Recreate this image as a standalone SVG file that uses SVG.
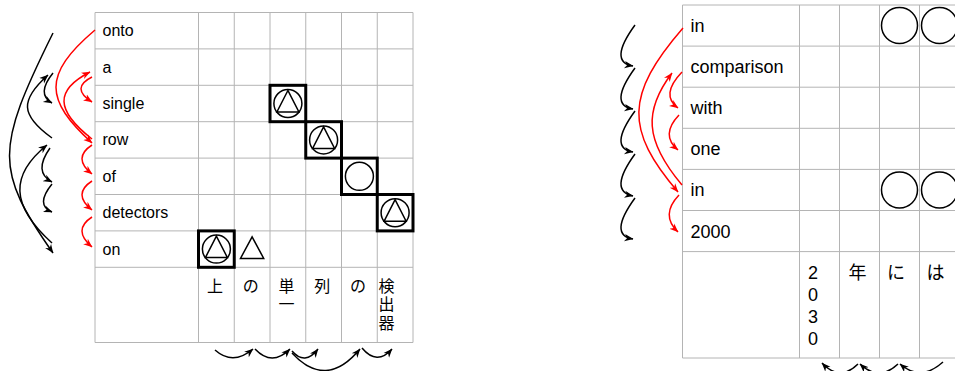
<svg xmlns="http://www.w3.org/2000/svg" width="955" height="371" viewBox="0 0 955 371">
<style>
.g{stroke:#b4b4b4;stroke-width:1;fill:none}
.t{font-family:"Liberation Sans","Noto Sans CJK JP",sans-serif;fill:#000}
.l{font-size:16px}
.r{font-size:18px}
.bx{fill:none;stroke:#000;stroke-width:3}
.m{fill:none;stroke:#000;stroke-width:1.5}
.kb{fill:none;stroke:#000;stroke-width:1.5;marker-end:url(#ab)}
.kr{fill:none;stroke:#f00;stroke-width:1.5;marker-end:url(#ar)}
</style>
<defs>
<marker id="ab" viewBox="0 0 10 10" refX="9.5" refY="5" markerWidth="9" markerHeight="9" markerUnits="userSpaceOnUse" orient="auto"><path d="M0,1 L10,5 L0,9 L3,5 z" fill="#000"/></marker>
<marker id="ar" viewBox="0 0 10 10" refX="9.5" refY="5" markerWidth="9" markerHeight="9" markerUnits="userSpaceOnUse" orient="auto"><path d="M0,1 L10,5 L0,9 L3,5 z" fill="#f00"/></marker>
</defs>
<rect width="955" height="371" fill="#fff"/>

<!-- left grid -->
<g id="grid-left" class="g">
<path d="M95,12.5H413M95,48.9H413M95,85.3H413M95,121.7H413M95,158.1H413M95,194.5H413M95,230.9H413M95,267.3H413M95,342.5H413"/>
<path d="M95,12.5V342.5M198.5,12.5V342.5M234.25,12.5V342.5M270,12.5V342.5M305.75,12.5V342.5M341.5,12.5V342.5M377.25,12.5V342.5M413,12.5V342.5"/>
</g>
<g class="t l">
<g id="en-onto"><text x="102.5" y="36.2">onto</text></g>
<g id="en-a"><text x="102.5" y="72.6">a</text></g>
<g id="en-single"><text x="102.5" y="109">single</text></g>
<g id="en-row"><text x="102.5" y="145.4">row</text></g>
<g id="en-of"><text x="102.5" y="181.8">of</text></g>
<g id="en-detectors"><text x="102.5" y="218.2">detectors</text></g>
<g id="en-on"><text x="102.5" y="254.6">on</text></g>
<g id="ja-ue"><text x="207" y="292">上</text></g>
<g id="ja-no1"><text x="242.75" y="292">の</text></g>
<g id="ja-tanitsu"><text x="278.5" y="292">単</text><text x="278.5" y="310.3">一</text></g>
<g id="ja-retsu"><text x="314.25" y="292">列</text></g>
<g id="ja-no2"><text x="350" y="292">の</text></g>
<g id="ja-kenshutsuki"><text x="378.5" y="292">検</text><text x="378.5" y="310.3">出</text><text x="378.5" y="328.6">器</text></g>
</g>
<g id="marks-left">
<rect class="bx" x="270" y="85.3" width="35.75" height="36.4"/>
<rect class="bx" x="305.75" y="121.7" width="35.75" height="36.4"/>
<rect class="bx" x="341.5" y="158.1" width="35.75" height="36.4"/>
<rect class="bx" x="377.25" y="194.5" width="35.75" height="36.4"/>
<rect class="bx" x="198.5" y="230.9" width="35.75" height="36.4"/>
<circle class="m" cx="287.9" cy="103.5" r="14"/><path class="m" d="M287.9,90.5L276.9,112H298.9Z"/>
<circle class="m" cx="323.6" cy="139.9" r="14"/><path class="m" d="M323.6,126.9L312.6,148.4H334.6Z"/>
<circle class="m" cx="359.4" cy="176.3" r="14"/>
<circle class="m" cx="395.1" cy="212.7" r="14"/><path class="m" d="M395.1,199.7L384.1,221.2H406.1Z"/>
<circle class="m" cx="216.4" cy="249.1" r="14"/><path class="m" d="M216.4,236.1L205.4,257.6H227.4Z"/>
<path class="m" d="M252.1,236.8L240.5,258.4H263.7Z"/>
</g>

<!-- right grid -->
<g id="grid-right" class="g">
<path d="M682.5,5H955M682.5,46.1H955M682.5,87.2H955M682.5,128.3H955M682.5,169.4H955M682.5,210.5H955M682.5,251.6H955M682.5,358H955"/>
<path d="M682.5,5V358M799.5,5V358M839.5,5V358M879.5,5V358M919.5,5V358"/>
</g>
<g class="t r">
<g id="en2-in1"><text x="690.5" y="32">in</text></g>
<g id="en2-comparison"><text x="690.5" y="73.1">comparison</text></g>
<g id="en2-with"><text x="690.5" y="114.2">with</text></g>
<g id="en2-one"><text x="690.5" y="155.3">one</text></g>
<g id="en2-in2"><text x="690.5" y="196.4">in</text></g>
<g id="en2-2000"><text x="690.5" y="237.5">2000</text></g>
<g id="ja2-2030"><text x="808" y="278.5">2</text><text x="808" y="300.5">0</text><text x="808" y="322.5">3</text><text x="808" y="344.5">0</text></g>
<g id="ja2-nen"><text x="848.5" y="278.5">年</text></g>
<g id="ja2-ni"><text x="887" y="278.5">に</text></g>
<g id="ja2-ha"><text x="926.5" y="278.5">は</text></g>
</g>
<g id="marks-right">
<circle class="m" cx="899.5" cy="25.5" r="18"/>
<circle class="m" cx="939.5" cy="25.5" r="18"/>
<circle class="m" cx="899.5" cy="190" r="18"/>
<circle class="m" cx="939.5" cy="190" r="18"/>
</g>

<!-- connectors -->
<g id="connectors">
<path class="kb" d="M53,33 C-5,150 -5,170 53,253"/>
<path class="kb" d="M53,73 Q36,94 52,103"/>
<path class="kb" d="M52,138 C20,115 20,100 48,75"/>
<path class="kb" d="M52,243 C10,205 10,175 47,145"/>
<path class="kb" d="M50,148 Q33,172 52,182"/>
<path class="kb" d="M52,184 Q35,205 52,212"/>
<path class="kr" d="M95,30 C42,75 45,100 92,143"/>
<path class="kr" d="M92,139 C55,110 55,90 90,72"/>
<path class="kr" d="M92,77 Q70,88 92,102"/>
<path class="kr" d="M92,145 Q72,158 92,174"/>
<path class="kr" d="M92,181 Q72,194 92,210"/>
<path class="kr" d="M92,217 Q72,230 92,247"/>
<path class="kb" d="M215,350 Q233,366 253,349"/>
<path class="kb" d="M255,349 Q272,367 290,349"/>
<path class="kb" d="M292,351 Q305,366 318,349"/>
<path class="kb" d="M292,353 Q326,390 360,349"/>
<path class="kb" d="M362,348 Q377,366 392,349"/>
<path class="kb" d="M635,25 Q608,62 633,66"/>
<path class="kb" d="M635,68 Q608,105 633,109"/>
<path class="kb" d="M635,111 Q608,148 633,152"/>
<path class="kb" d="M635,154 Q608,191 633,196"/>
<path class="kb" d="M635,198 Q608,235 633,239"/>
<path class="kr" d="M683,28 C625,95 625,130 678,192"/>
<path class="kr" d="M682,185 C644,140 644,110 672,73"/>
<path class="kr" d="M682,72 Q660,95 678,108"/>
<path class="kr" d="M679,115 Q660,135 678,150"/>
<path class="kr" d="M679,195 Q660,215 678,232"/>
<path class="kb" d="M943,362 Q921,382 900,364"/>
<path class="kb" d="M898,364 Q879,382 860,364"/>
<path class="kb" d="M858,364 Q840,382 822,363"/>
</g>
</svg>
